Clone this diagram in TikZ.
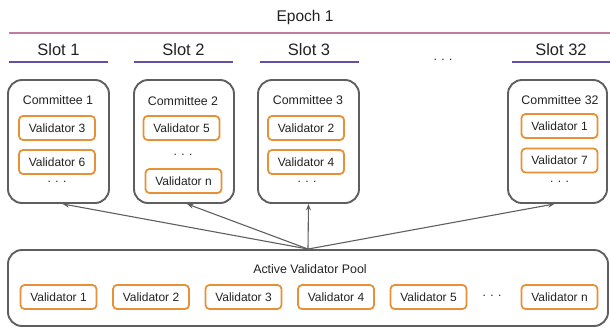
\documentclass[tikz,border=0pt]{standalone}
\usepackage{fontspec}
\setmainfont{Liberation Sans}
\usetikzlibrary{calc,arrows.meta}
\definecolor{pinkl}{HTML}{C27BA0}
\definecolor{purp}{HTML}{674EA7}
\definecolor{orng}{HTML}{E69138}
\definecolor{grayb}{HTML}{5F5F5F}
\definecolor{txt}{HTML}{222222}
\begin{document}
\begin{tikzpicture}[x=1pt,y=-1pt,
  big/.style={inner sep=0pt, text=txt, font=\fontsize{16.5}{18}\selectfont},
  epochlbl/.style={inner sep=0pt, text=txt, font=\fontsize{15.5}{18}\selectfont},
  lbl/.style={inner sep=0pt, text=txt, font=\fontsize{12.4}{14}\selectfont},
  dots/.style={inner sep=0pt, text=txt, font=\fontsize{12}{14}\selectfont},
  combox/.style={draw=grayb, line width=1.9pt, rounded corners=14pt, minimum height=123pt, inner sep=0pt},
  valbox/.style={draw=orng, line width=1.8pt, rounded corners=4pt, minimum width=76pt, minimum height=24pt, inner sep=0pt, text=txt, font=\fontsize{12}{14}\selectfont},
  slotline/.style={draw=purp, line width=2.7pt},
  arr/.style={draw=grayb, line width=1.1pt, -{Stealth[length=6.5pt,width=5pt]}}
]
\useasboundingbox (0,0) rectangle (610,327);

% Epoch
\node[epochlbl] (epoch) at (305,17) {Epoch 1};
\coordinate (el) at (9,33);
\coordinate (er) at (610,33);
\draw[pinkl, line width=2.5pt] (el) -- (er);

% Slots
\node[big] (s1) at (58.5,49.5) {Slot 1};
\node[big] (s2) at (183.5,49.5) {Slot 2};
\node[big] (s3) at (309,49.5) {Slot 3};
\node[big] (s32) at (561,49.5) {Slot 32};
\node[dots] (sdots) at (443,60) {. . .};
\coordinate (s1a) at (9,62);   \coordinate (s1b) at (108,62);
\coordinate (s2a) at (134,62); \coordinate (s2b) at (233,62);
\coordinate (s3a) at (260,62); \coordinate (s3b) at (359,62);
\coordinate (s32a) at (512,62); \coordinate (s32b) at (610,62);
\draw[slotline] (s1a) -- (s1b);
\draw[slotline] (s2a) -- (s2b);
\draw[slotline] (s3a) -- (s3b);
\draw[slotline] (s32a) -- (s32b);

% Committees
\node[combox, minimum width=101pt] (c1) at (58.5,141.5) {};
\node[combox, minimum width=100pt] (c2) at (184,141.5) {};
\node[combox, minimum width=101pt] (c3) at (308.5,141.5) {};
\node[combox, minimum width=99pt] (c32) at (557.5,141.5) {};

\node[lbl] (c1t) at (58,100) {Committee 1};
\node[valbox] (c1v3) at (57,128) {Validator 3};
\node[valbox] (c1v6) at (57,162) {Validator 6};
\node[dots] (c1d) at (57,182) {. . .};

\node[lbl] (c2t) at (183,101) {Committee 2};
\node[valbox] (c2v5) at (181.5,128) {Validator 5};
\node[dots] (c2d) at (183,155) {. . .};
\node[valbox] (c2vn) at (183.5,181) {Validator n};

\node[lbl] (c3t) at (308,100) {Committee 3};
\node[valbox] (c3v2) at (306,128) {Validator 2};
\node[valbox] (c3v4) at (306,162) {Validator 4};
\node[dots] (c3d) at (307,182) {. . .};

\node[lbl] (c32t) at (560,100) {Committee 32};
\node[valbox] (c32v1) at (559.5,126) {Validator 1};
\node[valbox] (c32v7) at (559.5,160.5) {Validator 7};
\node[dots] (c32d) at (559.5,182) {. . .};

% Pool
\node[combox, minimum width=600pt, minimum height=76pt] (pool) at (308,288) {};
\node[lbl] (poolt) at (310,269.5) {Active Validator Pool};
\node[valbox] (p1) at (58.5,297) {Validator 1};
\node[valbox] (p2) at (151,297) {Validator 2};
\node[valbox] (p3) at (243.5,297) {Validator 3};
\node[valbox] (p4) at (336,297) {Validator 4};
\node[valbox] (p5) at (428.5,297) {Validator 5};
\node[dots] (pd) at (492,296) {. . .};
\node[valbox] (pn) at (559.5,297) {Validator n};

% Arrows
\draw[arr] (pool.north) -- ($(c1.south west)!0.54!(c1.south east)$);
\draw[arr] (pool.north) -- ($(c2.south west)!0.53!(c2.south east)$);
\draw[arr] (pool.north) -- (c3.south);
\draw[arr] (pool.north) -- ($(c32.south west)!0.47!(c32.south east)$);
\end{tikzpicture}
\end{document}
